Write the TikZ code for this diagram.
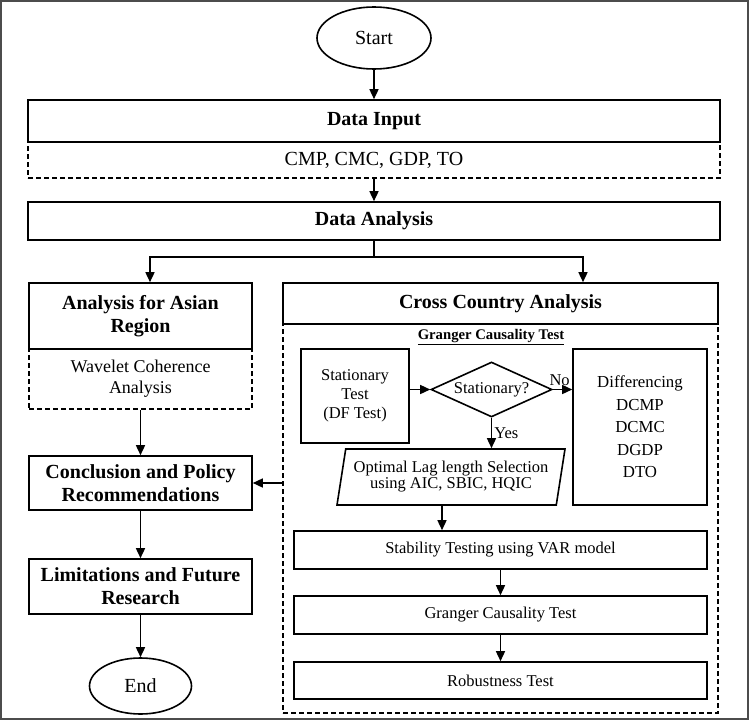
\documentclass[tikz,border=0pt]{standalone}
\usepackage{fontspec}
\setmainfont{Liberation Serif}
\usetikzlibrary{shapes.geometric,arrows.meta}
\tikzset{
	hd/.style={draw, line width=1.6pt, align=center, inner sep=0pt, font=\bfseries\fontsize{20}{23}\selectfont},
	sub/.style={draw, line width=1.6pt, dash pattern=on 5pt off 3pt, align=center, inner sep=0pt},
	tb/.style={draw, line width=1.6pt, align=center, inner sep=0pt, font=\fontsize{16.5}{19}\selectfont},
	term/.style={draw, ellipse, line width=1.6pt, inner sep=0pt, font=\fontsize{20}{23}\selectfont},
	dec/.style={draw, diamond, line width=1.6pt, inner sep=0pt, font=\fontsize{16.5}{19}\selectfont},
	io/.style={draw, trapezium, trapezium left angle=76, trapezium right angle=104, trapezium stretches body, line width=1.6pt, inner sep=0pt, font=\fontsize{16.5}{19}\selectfont},
	lbl/.style={inner sep=2pt, font=\fontsize{16.5}{19}\selectfont},
	arr/.style={-{Triangle[length=10pt,width=9pt]}, line width=1.5pt},
}

\begin{document}
\begin{tikzpicture}[x=1pt, y=-1pt]
	\useasboundingbox (0,0) rectangle (750,720);
	\draw [line width=2pt, black!70] (1,1) rectangle (748,719);

	% top part
	\node [term, minimum width=114pt, minimum height=62pt] (start) at (374,38) {Start};
	\node [hd, minimum width=692pt, minimum height=42pt] (input) at (374,121) {Data Input};
	\node [sub, minimum width=692pt, minimum height=36pt, font=\fontsize{20}{23}\selectfont] (vars) at (374,160) {CMP, CMC, GDP, TO};
	\node [hd, minimum width=692pt, minimum height=38pt] (anal) at (374,221) {Data Analysis};
	\coordinate (split) at (374,257);

	% left column
	\node [hd, minimum width=223pt, minimum height=66pt] (asia) at (140.5,316) {Analysis for Asian\\Region};
	\node [sub, minimum width=223pt, minimum height=60pt, font=\fontsize{18}{21}\selectfont] (wave) at (140.5,379) {Wavelet Coherence\\Analysis};
	\node [hd, minimum width=223pt, minimum height=54pt] (concl) at (140.5,483) {Conclusion and Policy\\Recommendations};
	\node [hd, minimum width=223pt, minimum height=55pt] (limit) at (140.5,586.5) {Limitations and Future\\Research};
	\node [term, minimum width=102pt, minimum height=56pt] (end) at (140.5,686) {End};

	% right column
	\node [hd, minimum width=435pt, minimum height=41pt] (cross) at (500.5,303.5) {Cross Country Analysis};
	\node [sub, minimum width=435pt, minimum height=389pt] (gframe) at (500.5,518.5) {};
	\node [font=\bfseries\fontsize{14.7}{17}\selectfont, inner sep=0pt] (gtitle) at (491,337) {\underline{Granger Causality Test}};
	\node [tb, minimum width=108pt, minimum height=94pt] (stat) at (355,396) {Stationary\\Test\\(DF Test)};
	\node [dec, minimum width=121pt, minimum height=55pt] (isstat) at (491.5,389.5) {\makebox[0pt]{Stationary?}};
	\node [tb, minimum width=134pt, minimum height=156pt, font=\fontsize{16.8}{22.5}\selectfont] (diff) at (640,427) {Differencing\\DCMP\\DCMC\\DGDP\\DTO};
	\node [io, minimum width=228pt, minimum height=56pt] (lag) at (451,477) {\makebox[0pt]{\begin{tabular}{@{}c@{}}Optimal Lag length Selection\\[-3pt]using AIC, SBIC, HQIC\end{tabular}}};
	\node [tb, minimum width=413pt, minimum height=38pt] (stab) at (500.5,550) {Stability Testing using VAR model};
	\node [tb, minimum width=413pt, minimum height=38pt] (gtest) at (500.5,615) {Granger Causality Test};
	\node [tb, minimum width=413pt, minimum height=37pt] (robust) at (500.5,680.5) {Robustness Test};

	% connectors
	\draw [arr] (start) -- (input);
	\draw [arr] (vars) -- (anal);
	\draw [line width=1.5pt] (anal) -- (split);
	\draw [arr] (split) -| ([xshift=9.5pt]asia.north);
	\draw [arr] (split) -| ([xshift=82.5pt]cross.north);
	\draw [arr] (wave) -- (concl);
	\draw [arr] (gframe.west |- concl.east) -- (concl.east);
	\draw [arr] (concl) -- (limit);
	\draw [arr] (limit) -- (end);
	\draw [arr] (stat.east |- isstat.west) -- (isstat.west);
	\draw [arr] (isstat.east) -- node [lbl, above=1pt, pos=0.35] (no) {No} (diff.west |- isstat.east);
	\draw [arr] (isstat.south) -- node [lbl, right] (yes) {Yes} (isstat.south |- lag.north);
	\draw [arr] ([xshift=-9pt]lag.south) -- ([xshift=-9pt]lag.south |- stab.north);
	\draw [arr] (stab) -- (gtest);
	\draw [arr] (gtest) -- (robust);
\end{tikzpicture}
\end{document}
